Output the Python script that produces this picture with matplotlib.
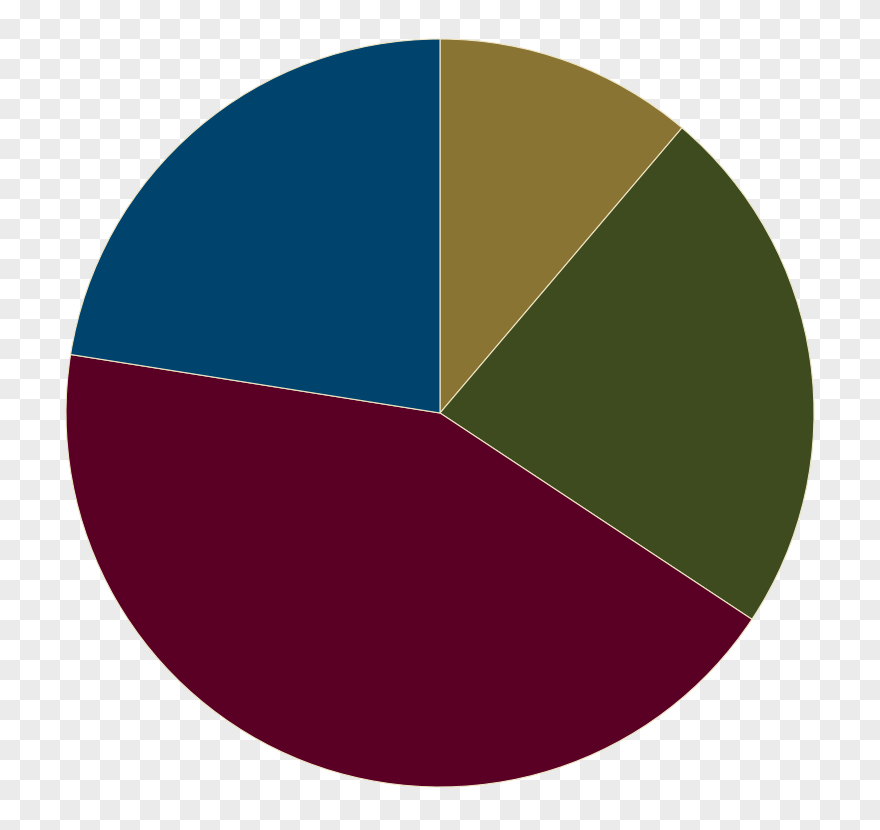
import numpy as np
import matplotlib
matplotlib.use("Agg")
import matplotlib.pyplot as plt

# slice shares (percent), clockwise from 12 o'clock
labels = ["Gold", "Green", "Maroon", "Blue"]
shares = [11.2, 23.1, 43.2, 22.5]
colors = ["#8A7433", "#3D4B1E", "#5B0025", "#00446D"]

W, H = 880, 830
fig = plt.figure(figsize=(W / 100, H / 100), dpi=100)

# checkerboard background (20 px squares)
bg = fig.add_axes([0, 0, 1, 1])
yy, xx = np.indices((H, W))
checker = ((xx // 20 + yy // 20) % 2).astype(float)
bg.imshow(checker, cmap=matplotlib.colors.ListedColormap(["#FFFFFF", "#EBEBEB"]),
          interpolation="nearest", aspect="auto")
bg.axis("off")

# pie axes: centre (440, 413), radius 374 px
cx, cy, r = 440, 413, 374
ax = fig.add_axes([(cx - r) / W, 1 - (cy + r) / H, 2 * r / W, 2 * r / H])
ax.pie(shares, colors=colors, startangle=90, counterclock=False, radius=1,
       wedgeprops=dict(edgecolor="#EFE6C4", linewidth=0.8))
ax.set_xlim(-1, 1)
ax.set_ylim(-1, 1)
ax.axis("off")

fig.savefig("out.png", dpi=100)
